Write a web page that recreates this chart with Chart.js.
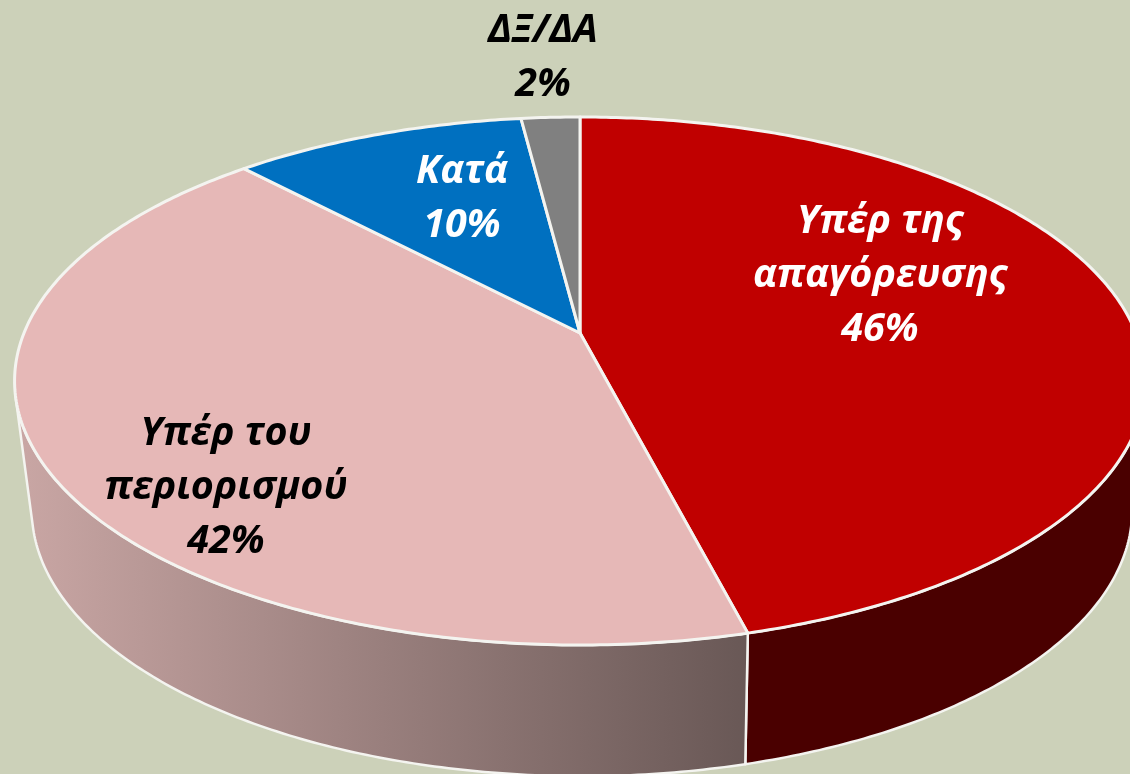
<!DOCTYPE html>
<html>
<head>
<meta charset="utf-8">
<style>
  html, body { margin: 0; padding: 0; background: #ccd1b9; overflow: hidden; }
  #wrap { width: 1130px; height: 774px; }
</style>
<script src="https://cdn.jsdelivr.net/npm/chart.js@4/dist/chart.umd.js"></script>
</head>
<body>
<div id="wrap"><canvas id="pie" width="1130" height="774"></canvas></div>
<script>
const categories = ['Υπέρ της απαγόρευσης', 'Υπέρ του περιορισμού', 'Κατά', 'ΔΞ/ΔΑ'];
const shares = [46, 42, 10, 2];
const labelLines = [['Υπέρ της', 'απαγόρευσης'], ['Υπέρ του', 'περιορισμού'], ['Κατά'], ['ΔΞ/ΔΑ']];

const topColors = ['#c00000', '#e6b8b7', '#0070c0', '#808080'];
const labelColors = ['#ffffff', '#000000', '#ffffff', '#000000'];
const labelSpots = [{ x: 880, y: 222 }, { x: 226, y: 434 }, { x: 462, y: 172 }, { x: 543, y: 31 }];
const lineGap = 54;

// perspective of the tilted disc: top face and the bottom rim of the wall
const topFace = { cx: 580, cy: 333, a: 556, b: 255.3, k: 0.1818 };
const baseFace = { cx: 582, cy: 461.7, a: 541, b: 257.3, k: 0.1818 };
const wallFrom = 104 * Math.PI / 180;
const wallTo = 256 * Math.PI / 180;

// t is the clockwise angle from twelve o'clock, r the share of the radius
function project(face, t, r) {
  const u = Math.sin(t) * r, v = -Math.cos(t) * r;
  const w = 1 - face.k * v;
  return { x: face.cx + face.a * u / w, y: face.cy + face.b * v / w };
}

function rimPath(ctx, face, t0, t1, first) {
  const steps = Math.max(2, Math.ceil(Math.abs(t1 - t0) * 90));
  for (let i = 0; i <= steps; i++) {
    const p = project(face, t0 + (t1 - t0) * i / steps, 1);
    if (i === 0 && first) ctx.moveTo(p.x, p.y);
    else ctx.lineTo(p.x, p.y);
  }
}

function drawWall(ctx, t0, t1, fill) {
  const a = Math.max(t0, wallFrom), b = Math.min(t1, wallTo);
  if (a >= b) return;
  ctx.beginPath();
  rimPath(ctx, topFace, a, b, true);
  rimPath(ctx, baseFace, b, a, false);
  ctx.closePath();
  ctx.fillStyle = fill;
  ctx.fill();
  ctx.strokeStyle = '#f4f4f0';
  ctx.lineWidth = 2.5;
  ctx.lineJoin = 'round';
  ctx.stroke();
}

function drawTop(ctx, t0, t1, fill) {
  const c = project(topFace, 0, 0);
  ctx.beginPath();
  ctx.moveTo(c.x, c.y);
  rimPath(ctx, topFace, t0, t1, false);
  ctx.closePath();
  ctx.fillStyle = fill;
  ctx.fill();
  ctx.strokeStyle = '#f4f4f0';
  ctx.lineWidth = 3;
  ctx.lineJoin = 'round';
  ctx.stroke();
}

const tiltedPie = {
  id: 'tiltedPie',
  beforeDatasetDraw(chart) {
    const ctx = chart.ctx;
    const arcs = chart.getDatasetMeta(0).data;
    const turn = a => a + Math.PI / 2;

    const wallShade = ctx.createLinearGradient(20, 0, 746, 0);
    wallShade.addColorStop(0, '#c9a6a4');
    wallShade.addColorStop(1, '#695856');
    const wallFills = ['#4a0000', wallShade, '#003a66', '#404040'];

    arcs.forEach((arc, i) => drawWall(ctx, turn(arc.startAngle), turn(arc.endAngle), wallFills[i]));
    arcs.forEach((arc, i) => drawTop(ctx, turn(arc.startAngle), turn(arc.endAngle), topColors[i]));
    return false;
  },
  afterDatasetsDraw(chart) {
    const ctx = chart.ctx;
    ctx.save();
    ctx.font = 'italic bold 39.5px "Open Sans"';
    ctx.textAlign = 'center';
    ctx.textBaseline = 'middle';
    shares.forEach((v, i) => {
      ctx.fillStyle = labelColors[i];
      const lines = labelLines[i].concat(v + '%');
      lines.forEach((line, n) => {
        ctx.fillText(line, labelSpots[i].x, labelSpots[i].y + n * lineGap);
      });
    });
    ctx.restore();
  }
};

new Chart(document.getElementById('pie'), {
  type: 'pie',
  data: {
    labels: categories,
    datasets: [{ data: shares, backgroundColor: topColors }]
  },
  options: {
    responsive: false,
    animation: false,
    plugins: { legend: { display: false }, tooltip: { enabled: false } }
  },
  plugins: [tiltedPie]
});
</script>
</body>
</html>
